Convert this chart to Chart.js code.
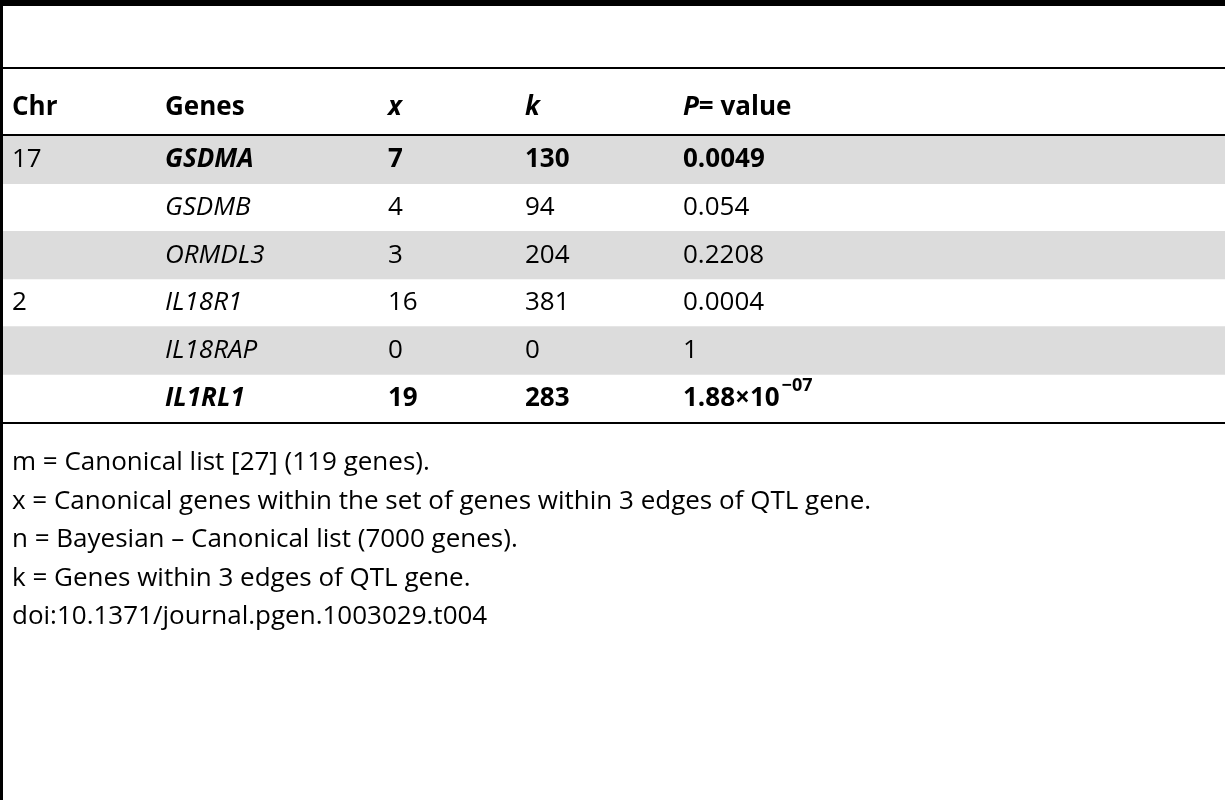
<!DOCTYPE html>
<html>
<head>
<meta charset="utf-8">
<script src="https://cdn.jsdelivr.net/npm/chart.js@4"></script>
<style>body{margin:0;background:#fff}</style>
</head>
<body>
<canvas id="tbl" width="1225" height="800"></canvas>
<script>
var headers = ['Chr', 'Genes', 'x', 'k', 'P= value'];
var chrs = ['17', '', '', '2', '', ''];
var genes = ['GSDMA', 'GSDMB', 'ORMDL3', 'IL18R1', 'IL18RAP', 'IL1RL1'];
var xVals = ['7', '4', '3', '16', '0', '19'];
var kVals = ['130', '94', '204', '381', '0', '283'];
var pVals = ['0.0049', '0.054', '0.2208', '0.0004', '1', '1.88×10|−07'];
var boldRows = [true, false, false, false, false, true];
var shaded = [true, false, true, false, true, false];
var notes = [
  'm = Canonical list [27] (119 genes).',
  'x = Canonical genes within the set of genes within 3 edges of QTL gene.',
  'n = Bayesian – Canonical list (7000 genes).',
  'k = Genes within 3 edges of QTL gene.',
  'doi:10.1371/journal.pgen.1003029.t004'
];

var colX = [12, 165, 388, 525, 683];
var FONT = '"Open Sans", sans-serif';

var tablePlugin = {
  id: 'tableText',
  afterDraw: function(chart){
    var c = chart.ctx, ys = chart.scales.y;
    c.save();
    c.fillStyle = '#000';
    c.fillRect(0, 0, 1225, 6);
    c.fillRect(0, 0, 3, 800);
    c.fillRect(0, 67, 1225, 2);
    c.fillRect(0, 134, 1225, 2);
    c.fillRect(0, 422, 1225, 2);
    c.textBaseline = 'middle';
    for (var h = 0; h < headers.length; h++){
      var it = (h === 2 || h === 3);
      if (h === 4){
        c.font = 'italic bold 26px ' + FONT;
        c.fillText('P', colX[h], 108);
        var w = c.measureText('P').width;
        c.font = 'bold 26px ' + FONT;
        c.fillText('= value', colX[h] + w, 108);
      } else {
        c.font = (it ? 'italic ' : '') + 'bold 26px ' + FONT;
        c.fillText(headers[h], colX[h], 108);
      }
    }
    for (var i = 0; i < genes.length; i++){
      var y = ys.getPixelForValue(i);
      var b = boldRows[i] ? 'bold ' : '';
      c.font = '26px ' + FONT;
      c.fillText(chrs[i], colX[0], y);
      c.font = 'italic ' + b + '26px ' + FONT;
      c.fillText(genes[i], colX[1], y);
      c.font = b + '26px ' + FONT;
      c.fillText(xVals[i], colX[2], y);
      c.fillText(kVals[i], colX[3], y);
      var parts = pVals[i].split('|');
      c.fillText(parts[0], colX[4], y);
      if (parts[1]){
        var pw = c.measureText(parts[0]).width;
        c.font = b + '18px ' + FONT;
        c.fillText(parts[1], colX[4] + pw + 2, y - 12);
      }
    }
    c.font = '26px ' + FONT;
    for (var n = 0; n < notes.length; n++){
      c.fillText(notes[n], 12, 463 + n * 38.5);
    }
    c.restore();
  }
};

new Chart(document.getElementById('tbl').getContext('2d'), {
  type: 'bar',
  data: {
    labels: genes,
    datasets: [{
      data: shaded.map(function(s){ return s ? [0, 1] : null; }),
      backgroundColor: '#dcdcdc',
      categoryPercentage: 1,
      barPercentage: 1,
      borderWidth: 0
    }]
  },
  options: {
    indexAxis: 'y',
    responsive: false,
    animation: false,
    layout: { padding: { top: 136, bottom: 378, left: 3, right: 0 } },
    plugins: { legend: { display: false }, tooltip: { enabled: false } },
    scales: {
      x: { display: false, min: 0, max: 1 },
      y: { display: false }
    }
  },
  plugins: [tablePlugin]
});
</script>
</body>
</html>
